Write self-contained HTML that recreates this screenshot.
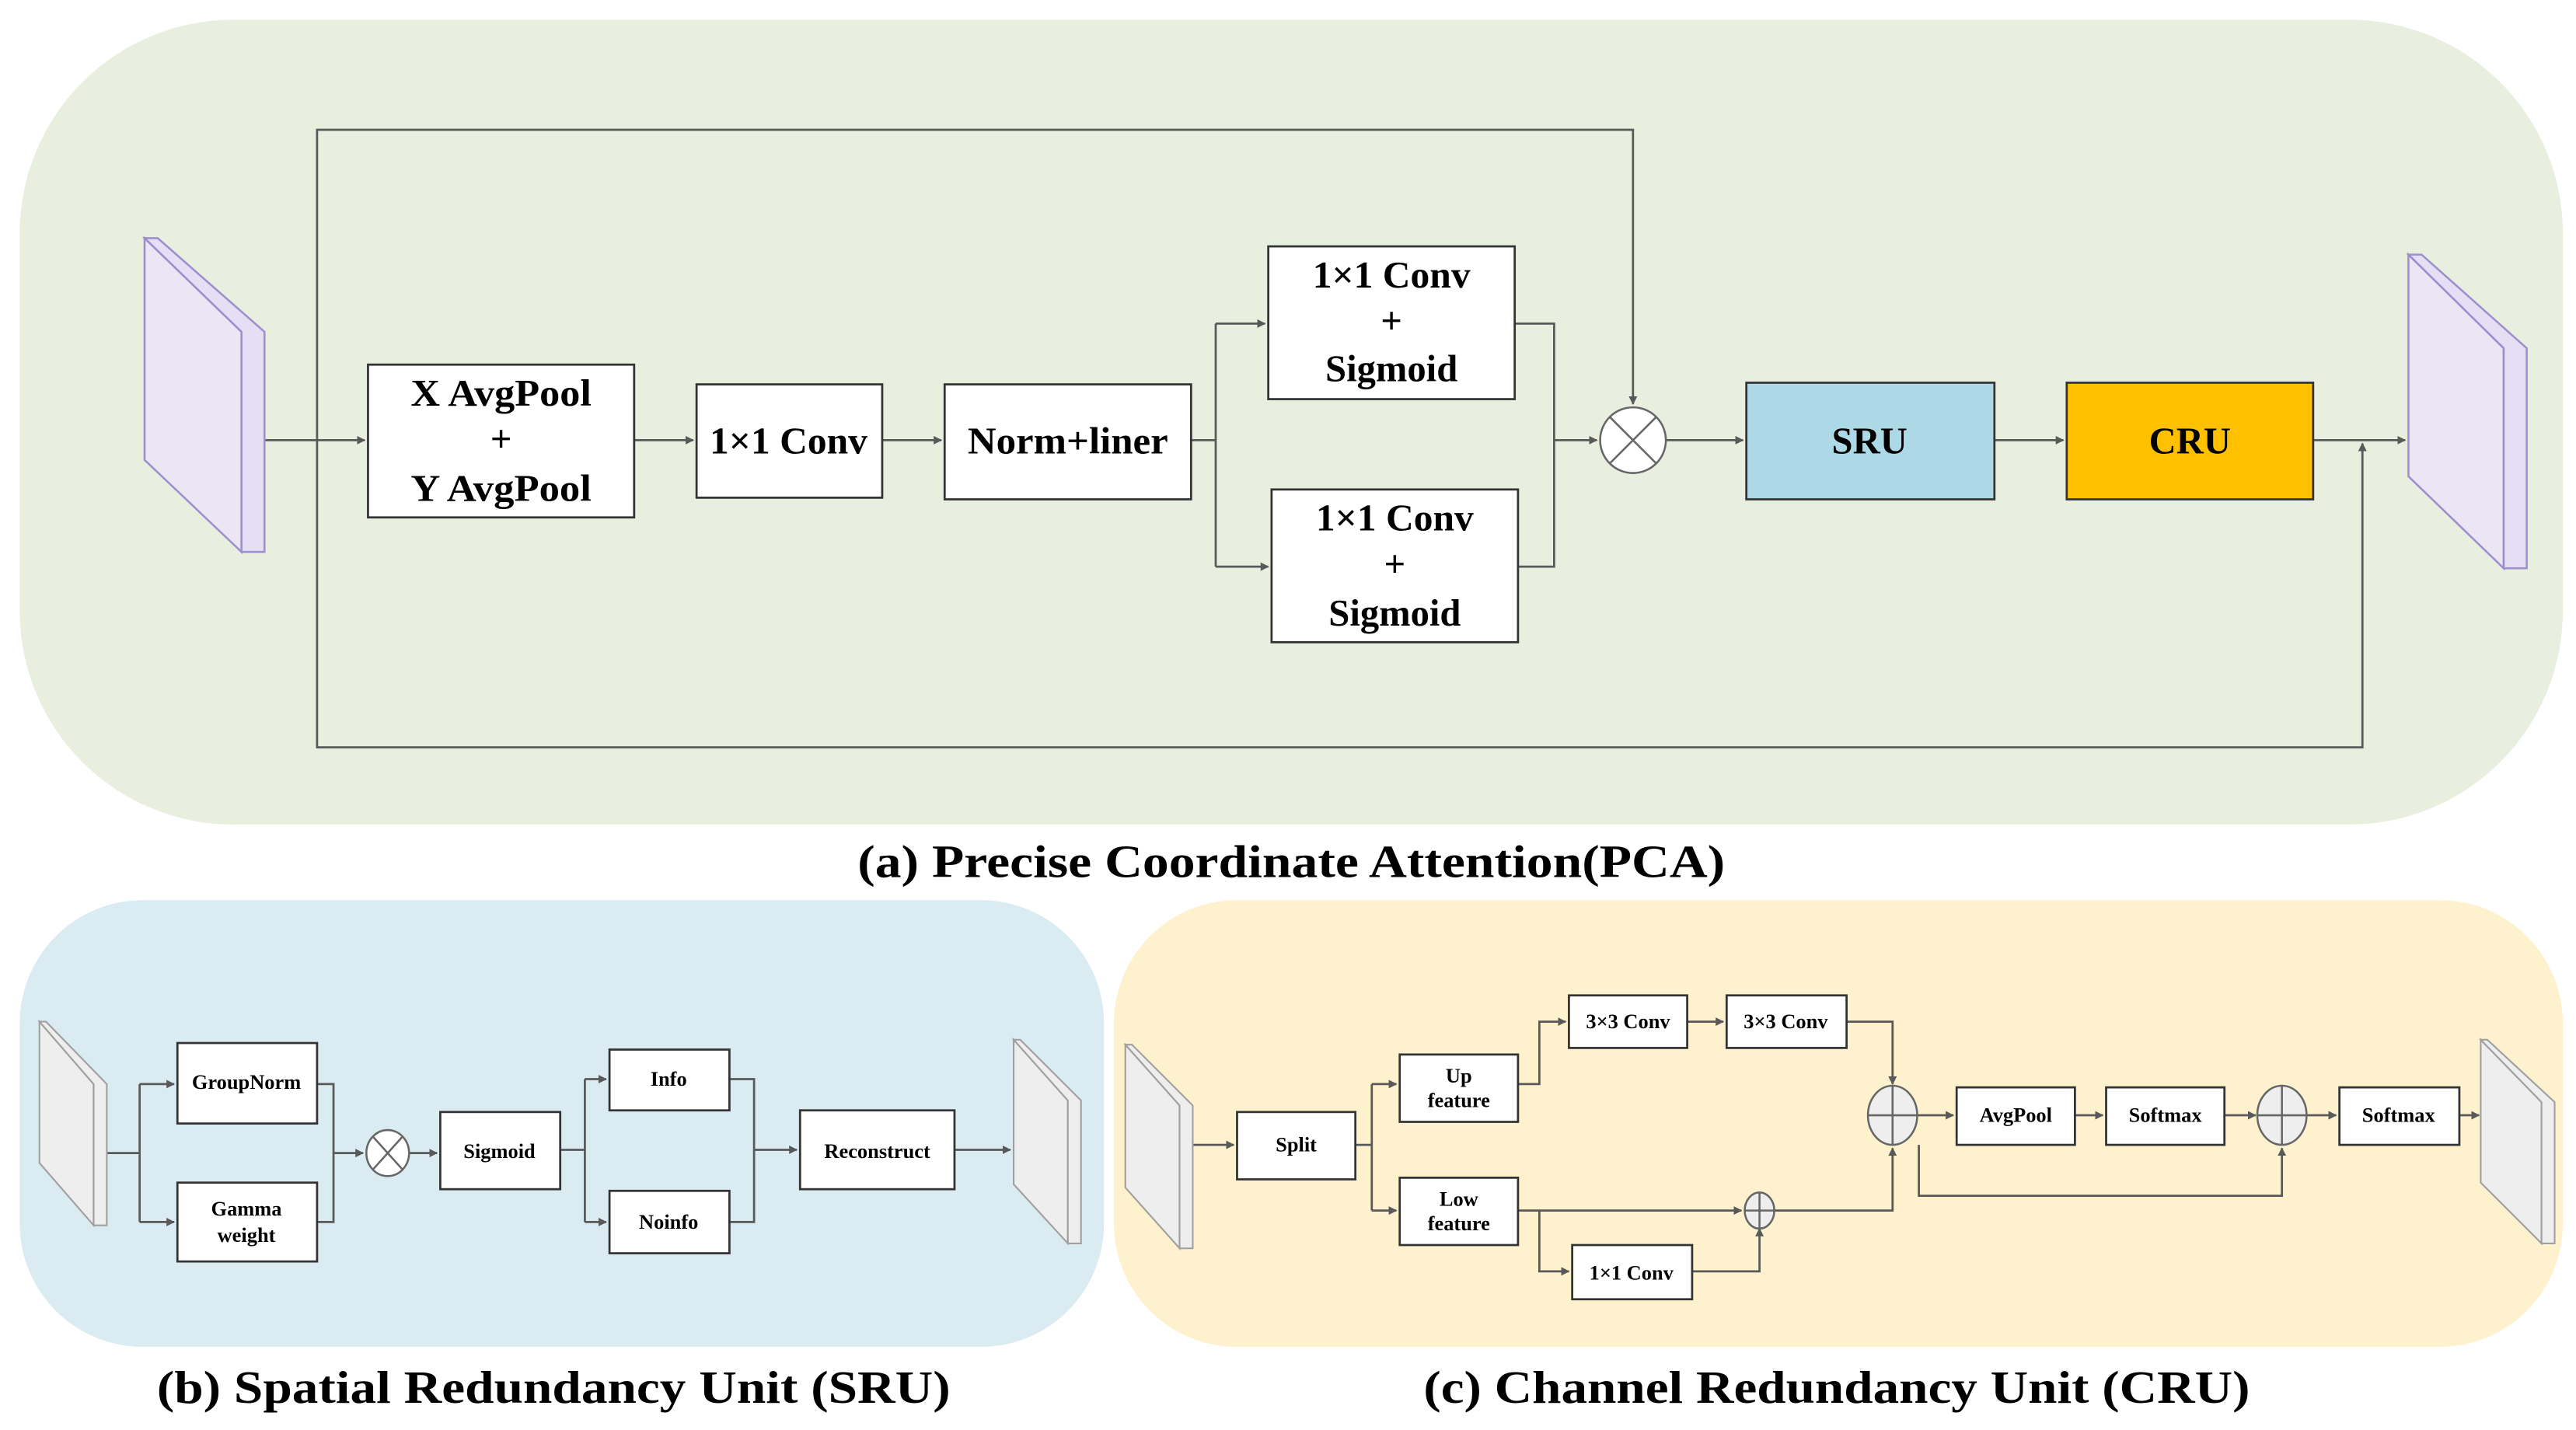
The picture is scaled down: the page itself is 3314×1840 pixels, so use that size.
<!DOCTYPE html>
<html><head><meta charset="utf-8"><style>
html,body{margin:0;padding:0;background:#fff;}
svg{display:block;}
text{font-family:"Liberation Serif",serif;font-weight:bold;fill:#000;text-anchor:middle;}
</style></head><body>
<svg width="3314" height="1840" viewBox="0 0 1568 870.6" preserveAspectRatio="none" xmlns="http://www.w3.org/2000/svg">
<defs>
<marker id="ar" viewBox="0 0 10 10" refX="9" refY="5" markerWidth="4" markerHeight="4" orient="auto-start-reverse"><path d="M0,0L10,5L0,10z" fill="#595959"/></marker>
</defs>
<rect x="12" y="12" width="1548" height="490" rx="130" ry="130" fill="#e9efdf"/>
<rect x="12" y="548" width="660" height="272" rx="75" ry="75" fill="#daecf2"/>
<rect x="678" y="548" width="882" height="272" rx="75" ry="75" fill="#fef1cd"/>
<text x="786" y="534" font-size="28" textLength="528" lengthAdjust="spacingAndGlyphs">(a) Precise Coordinate Attention(PCA)</text>
<text x="337" y="854" font-size="28" textLength="483" lengthAdjust="spacingAndGlyphs">(b) Spatial Redundancy Unit (SRU)</text>
<text x="1118" y="854" font-size="28" textLength="503" lengthAdjust="spacingAndGlyphs">(c) Channel Redundancy Unit (CRU)</text>

<g stroke="#595959" stroke-width="1.3" fill="none">
<path d="M161,268H222" marker-end="url(#ar)"/>
<path d="M193,268V79H994V246" marker-end="url(#ar)"/>
<path d="M193,268V455H1438V270" marker-end="url(#ar)"/>
<path d="M386,268H422" marker-end="url(#ar)"/>
<path d="M537,268H573" marker-end="url(#ar)"/>
<path d="M725,268H740"/>
<path d="M740,197V345"/>
<path d="M740,197H770" marker-end="url(#ar)"/>
<path d="M740,345H772" marker-end="url(#ar)"/>
<path d="M922,197H946V345H924"/>
<path d="M946,268H972" marker-end="url(#ar)"/>
<path d="M1014,268H1061" marker-end="url(#ar)"/>
<path d="M1214,268H1256" marker-end="url(#ar)"/>
<path d="M1408,268H1464" marker-end="url(#ar)"/>
<path d="M65,702H85M85,660V744"/>
<path d="M85,660H106" marker-end="url(#ar)"/>
<path d="M85,744H106" marker-end="url(#ar)"/>
<path d="M193,660H203V744H193"/>
<path d="M203,702H221" marker-end="url(#ar)"/>
<path d="M249,702H266" marker-end="url(#ar)"/>
<path d="M341,700H356M356,657V744"/>
<path d="M356,657H369" marker-end="url(#ar)"/>
<path d="M356,744H369" marker-end="url(#ar)"/>
<path d="M444,657H459V744H444"/>
<path d="M459,700H485" marker-end="url(#ar)"/>
<path d="M581,700H615" marker-end="url(#ar)"/>
<path d="M726,697H751" marker-end="url(#ar)"/>
<path d="M825,697H835M835,660V737"/>
<path d="M835,660H850" marker-end="url(#ar)"/>
<path d="M835,737H850" marker-end="url(#ar)"/>
<path d="M924,660H937V622H953" marker-end="url(#ar)"/>
<path d="M1027,622H1049" marker-end="url(#ar)"/>
<path d="M1124,622H1152V660" marker-end="url(#ar)"/>
<path d="M924,737H1060" marker-end="url(#ar)"/>
<path d="M937,737V774H955" marker-end="url(#ar)"/>
<path d="M1030,774H1071V748" marker-end="url(#ar)"/>
<path d="M1080,737H1152V699" marker-end="url(#ar)"/>
<path d="M1167,679H1189" marker-end="url(#ar)"/>
<path d="M1263,679H1280" marker-end="url(#ar)"/>
<path d="M1354,679H1373" marker-end="url(#ar)"/>
<path d="M1404,679H1422" marker-end="url(#ar)"/>
<path d="M1497,679H1509" marker-end="url(#ar)"/>
<path d="M1168,697V728H1389V699" marker-end="url(#ar)"/>
</g>

<g stroke="#9c8fcf" stroke-width="1.2" fill="#ebe5f4">
<path d="M88,145L147,202V336L88,280Z"/>
<path d="M88,145H96L161,202V336H147V202Z" fill="#e6def4"/>
<path d="M1466,155L1524,212V346L1466,290Z"/>
<path d="M1466,155H1474L1538,212V346H1524V212Z" fill="#e6def4"/>
</g>
<g stroke="#a0a0a0" stroke-width="1" fill="#eeeeee">
<path d="M24,622L57,660V746L24,708Z"/><path d="M24,622H28L65,660V746H57V660Z"/>
<path d="M617,633L650,670V757L617,721Z"/><path d="M617,633H621L658,670V757H650V670Z"/>
<path d="M685,636L718,673V760L685,723Z"/><path d="M685,636H689L726,673V760H718V673Z"/>
<path d="M1510,633L1547,671V757L1510,720Z"/><path d="M1510,633H1514L1555,671V757H1547V671Z"/>
</g>

<g stroke="#333" stroke-width="1.3" fill="#fff">
<rect x="224" y="222" width="162" height="93"/>
<rect x="424" y="234" width="113" height="69"/>
<rect x="575" y="234" width="150" height="70"/>
<rect x="772" y="150" width="150" height="93"/>
<rect x="774" y="298" width="150" height="93"/>
<rect x="1063" y="233" width="151" height="71" fill="#add8e6"/>
<rect x="1258" y="233" width="150" height="71" fill="#ffc000"/>
<rect x="108" y="635" width="85" height="49"/>
<rect x="108" y="720" width="85" height="48"/>
<rect x="268" y="677" width="73" height="47"/>
<rect x="371" y="639" width="73" height="37"/>
<rect x="371" y="725" width="73" height="38"/>
<rect x="487" y="676" width="94" height="48"/>
<rect x="753" y="677" width="72" height="41"/>
<rect x="852" y="642" width="72" height="41"/>
<rect x="852" y="717" width="72" height="41"/>
<rect x="955" y="606" width="72" height="32"/>
<rect x="1051" y="606" width="73" height="32"/>
<rect x="957" y="758" width="73" height="33"/>
<rect x="1191" y="662" width="72" height="35"/>
<rect x="1282" y="662" width="72" height="35"/>
<rect x="1424" y="662" width="73" height="35"/>
</g>

<g stroke="#666" stroke-width="1.2" fill="#fff">
<circle cx="994" cy="268" r="20"/>
<path d="M980,254L1008,282M1008,254L980,282"/>
<ellipse cx="236" cy="702" rx="13" ry="14"/>
<path d="M227,692L245,712M245,692L227,712"/>
<ellipse cx="1152" cy="679" rx="15" ry="18" fill="#eee"/>
<path d="M1137,679H1167M1152,661V697"/>
<ellipse cx="1389" cy="679" rx="15" ry="18" fill="#eee"/>
<path d="M1374,679H1404M1389,661V697"/>
<ellipse cx="1071" cy="737" rx="9" ry="11" fill="#eee"/>
<path d="M1062,737H1080M1071,726V748"/>
</g>

<g font-size="23">
<text x="305" y="247" textLength="110" lengthAdjust="spacingAndGlyphs">X AvgPool</text>
<text x="305" y="275">+</text>
<text x="305" y="305" textLength="110" lengthAdjust="spacingAndGlyphs">Y AvgPool</text>
<text x="480" y="276" textLength="96" lengthAdjust="spacingAndGlyphs">1×1 Conv</text>
<text x="650" y="276" textLength="122" lengthAdjust="spacingAndGlyphs">Norm+liner</text>
<text x="847" y="175" textLength="96" lengthAdjust="spacingAndGlyphs">1×1 Conv</text>
<text x="847" y="203">+</text>
<text x="847" y="232">Sigmoid</text>
<text x="849" y="323" textLength="96" lengthAdjust="spacingAndGlyphs">1×1 Conv</text>
<text x="849" y="351">+</text>
<text x="849" y="381">Sigmoid</text>
<text x="1138" y="276">SRU</text>
<text x="1333" y="276">CRU</text>
</g>
<g font-size="12.5">
<text x="150" y="663">GroupNorm</text>
<text x="150" y="740">Gamma</text>
<text x="150" y="756">weight</text>
<text x="304" y="705">Sigmoid</text>
<text x="407" y="661">Info</text>
<text x="407" y="748">Noinfo</text>
<text x="534" y="705">Reconstruct</text>
<text x="789" y="701">Split</text>
<text x="888" y="659">Up</text>
<text x="888" y="674">feature</text>
<text x="888" y="734">Low</text>
<text x="888" y="749">feature</text>
<text x="991" y="626">3×3 Conv</text>
<text x="1087" y="626">3×3 Conv</text>
<text x="993" y="779">1×1 Conv</text>
<text x="1227" y="683">AvgPool</text>
<text x="1318" y="683">Softmax</text>
<text x="1460" y="683">Softmax</text>
</g>
</svg>
</body></html>
